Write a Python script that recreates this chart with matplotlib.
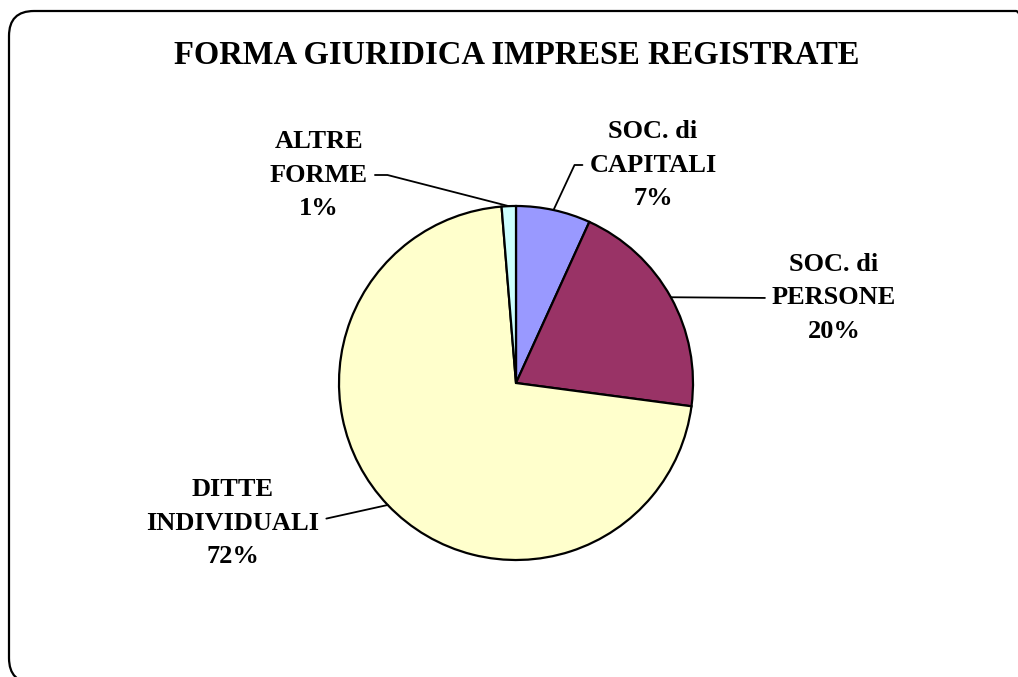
import numpy as np
import matplotlib
matplotlib.use("Agg")
import matplotlib.pyplot as plt
from matplotlib.patches import FancyBboxPatch

# data (clockwise from 12 o'clock)
categories = ["SOC. di\nCAPITALI", "SOC. di\nPERSONE", "DITTE\nINDIVIDUALI", "ALTRE\nFORME"]
shares = [6.8, 20.3, 71.6, 1.3]
colors = ["#9999FF", "#993366", "#FFFFCC", "#CCFFFF"]
title = "FORMA GIURIDICA IMPRESE REGISTRATE"

W, H = 1018, 677
fig = plt.figure(figsize=(W / 100, H / 100), dpi=100)
ax = fig.add_axes([0, 0, 1, 1])

plt.rcParams['font.family'] = ['Liberation Serif', 'DejaVu Serif']

cx, cy, r = 516, H - 383, 177
wedges, _ = ax.pie(shares, colors=colors, startangle=90, counterclock=False,
                   center=(cx, cy), radius=r,
                   wedgeprops=dict(edgecolor="black", linewidth=1.6))

ax.set_xlim(0, W)
ax.set_ylim(0, H)
ax.set_aspect("auto")
ax.axis("off")

# label centres (pixels, image coords), leader side and leader bend angle
label_pos = [(653, 165), (834, 298), (233, 523), (319, 175)]
relpos = [(0, 0.5), (0, 0.5), (1, 0.5), (1, 0.5)]
bend = [65, None, 12.5, -14.4]

total = sum(shares)
for w, cat, val, (tx, ty), rp, b in zip(wedges, categories, shares, label_pos, relpos, bend):
    mid = np.deg2rad((w.theta1 + w.theta2) / 2)
    px = cx + r * np.cos(mid)
    py = cy + r * np.sin(mid)
    txt = "%s\n%d%%" % (cat, round(val / total * 100))
    conn = "arc3" if b is None else "angle,angleA=0,angleB=%g,rad=0" % b
    ax.annotate(txt, xy=(px, py), xytext=(tx, H - ty),
                ha="center", va="center", multialignment="center",
                fontsize=19, fontweight="bold", linespacing=1.56,
                arrowprops=dict(arrowstyle="-", color="black", lw=1.3,
                                shrinkA=3, shrinkB=0, relpos=rp,
                                connectionstyle=conn))

ax.text(517, H - 55, title, ha="center", va="center",
        fontsize=23.5, fontweight="bold")

# rounded outer border, running off the right and bottom of the picture
frame = FancyBboxPatch((9, -6), 1032, H - 11 + 6,
                       boxstyle="round,pad=0,rounding_size=25",
                       facecolor="none", edgecolor="black", linewidth=1.6,
                       clip_on=False)
ax.add_patch(frame)

fig.savefig("out.png", dpi=100, facecolor="white")
